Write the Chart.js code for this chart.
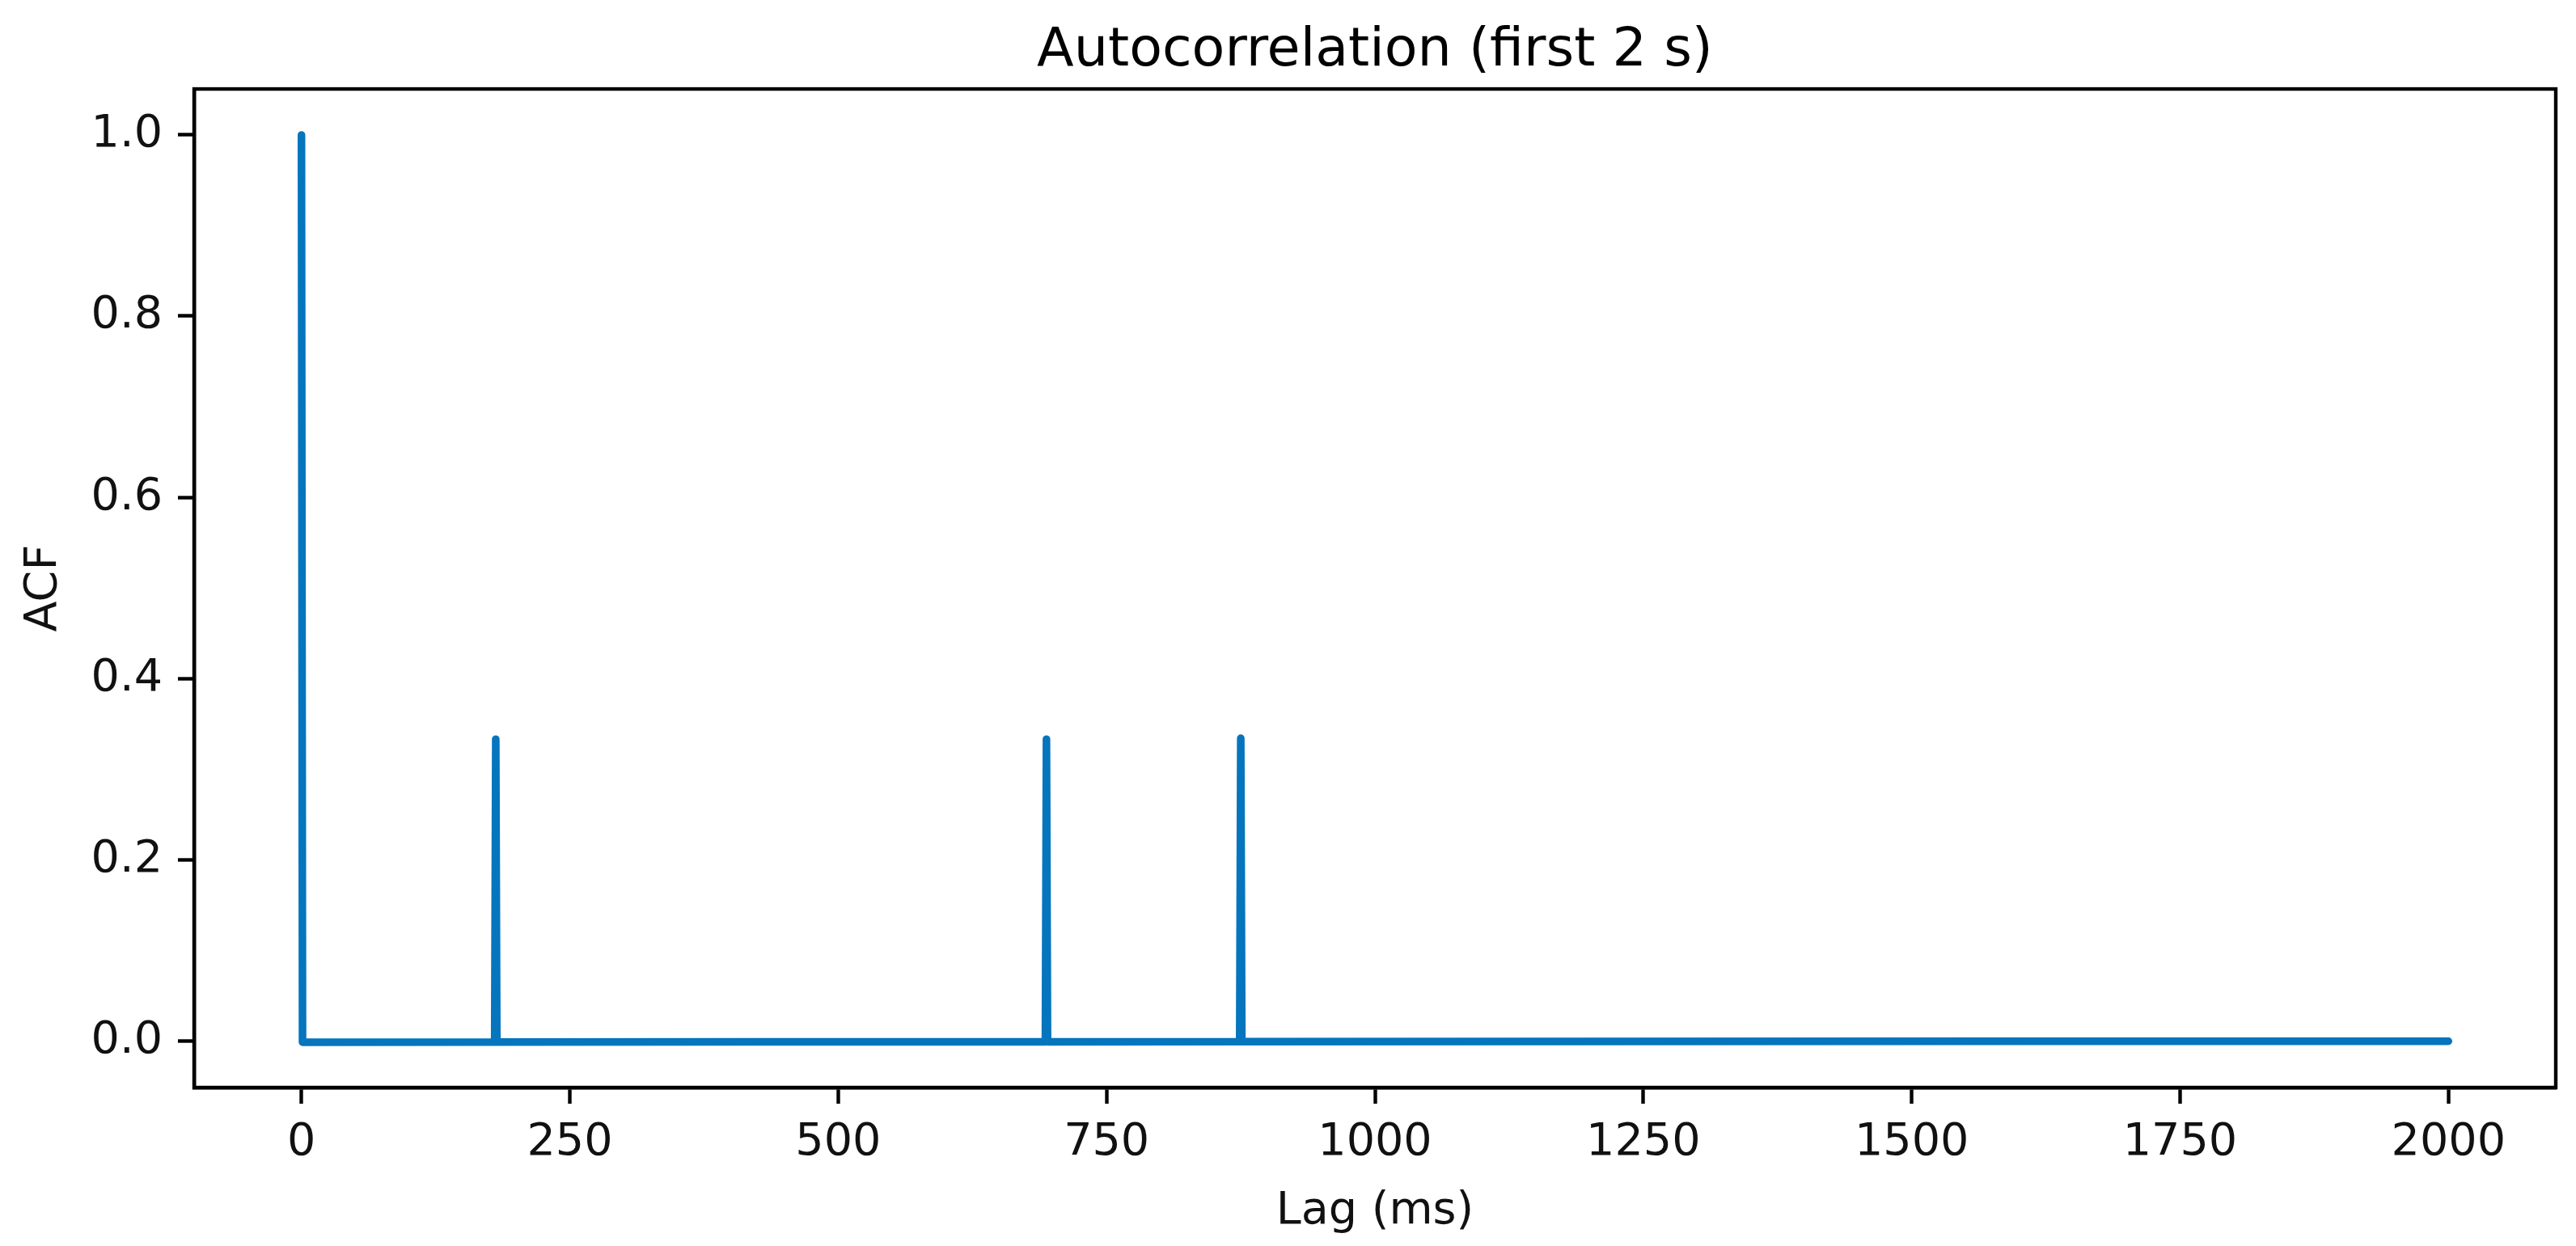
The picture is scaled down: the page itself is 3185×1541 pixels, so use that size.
<!DOCTYPE html>
<html>
<head>
<meta charset="utf-8">
<script src="https://cdn.jsdelivr.net/npm/chart.js@4/dist/chart.umd.min.js"></script>
<style>
html, body { margin: 0; padding: 0; background: #fff; }
#acfChart { display: block; }
</style>
</head>
<body>
<canvas id="acfChart" width="3185" height="1541" style="width:3185px;height:1541px"></canvas>
<script>
// lag (ms) and autocorrelation values
const lagMs = [0, 1, 180, 181, 182, 420, 693, 694, 695, 874, 875, 876, 1200, 1600, 2000];
const acf   = [1.0, -0.0015, -0.0014, 0.333, -0.0014, -0.0012, -0.0011, 0.333, -0.0011, -0.0010, 0.334, -0.0010, -0.0008, -0.0006, -0.0005];

const xTicks = [0, 250, 500, 750, 1000, 1250, 1500, 1750, 2000];
const yTicks = [0.0, 0.2, 0.4, 0.6, 0.8, 1.0];

const FONT = 'DejaVu Sans';
const INK = '#111';

// matplotlib style box round the plot area
const frame = {
    id: 'frame',
    afterDraw(chart) {
        const { ctx, chartArea: a } = chart;
        ctx.save();
        ctx.strokeStyle = '#000';
        ctx.lineWidth = 4.4;
        ctx.strokeRect(a.left, a.top, a.right - a.left, a.bottom - a.top);
        ctx.restore();
    }
};

const ctx = document.getElementById('acfChart').getContext('2d');
const acfChart = new Chart(ctx, {
    type: 'line',
    data: {
        datasets: [{
            label: 'ACF',
            data: lagMs.map((x, i) => ({ x: x, y: acf[i] })),
            borderColor: '#0575bd',
            borderWidth: 9.5,
            borderCapStyle: 'round',
            borderJoinStyle: 'round',
            pointRadius: 0,
            tension: 0,
            fill: false
        }]
    },
    options: {
        responsive: false,
        devicePixelRatio: 1,
        animation: false,
        layout: { padding: { left: 0, right: 25, top: 0, bottom: 0 } },
        plugins: {
            legend: { display: false },
            tooltip: { enabled: false },
            title: {
                display: true,
                fullSize: false,
                text: 'Autocorrelation (first 2 s)',
                color: '#000',
                font: { family: FONT, size: 66.7, weight: 'normal', lineHeight: 1.2 },
                padding: { top: 24, bottom: 6 }
            }
        },
        scales: {
            x: {
                type: 'linear',
                min: -100,
                max: 2100,
                afterFit: s => { s.height = 196; },
                afterBuildTicks: s => { s.ticks = xTicks.map(v => ({ value: v })); },
                ticks: {
                    color: INK,
                    font: { family: FONT, size: 55.6 },
                    padding: 15,
                    maxRotation: 0,
                    autoSkip: false,
                    callback: v => String(v)
                },
                grid: { drawOnChartArea: false, drawTicks: true, tickLength: 20, tickWidth: 4.4, tickColor: '#000' },
                border: { display: true, color: '#000', width: 4.4 },
                title: {
                    display: true,
                    text: 'Lag (ms)',
                    color: INK,
                    font: { family: FONT, size: 55.6, lineHeight: 1.2 },
                    padding: { top: 0, bottom: 9 }
                }
            },
            y: {
                type: 'linear',
                min: -0.0516,
                max: 1.0508,
                afterFit: s => { s.width = 240; },
                afterBuildTicks: s => { s.ticks = yTicks.map(v => ({ value: v })); },
                ticks: {
                    color: INK,
                    font: { family: FONT, size: 55.6 },
                    padding: 19,
                    callback: v => v.toFixed(1)
                },
                grid: { drawOnChartArea: false, drawTicks: true, tickLength: 20, tickWidth: 4.4, tickColor: '#000' },
                border: { display: true, color: '#000', width: 4.4 },
                title: {
                    display: true,
                    text: 'ACF',
                    color: INK,
                    font: { family: FONT, size: 55.6, lineHeight: 1.2 },
                    padding: { top: 21, bottom: 0 }
                }
            }
        }
    },
    plugins: [frame]
});
</script>
</body>
</html>
